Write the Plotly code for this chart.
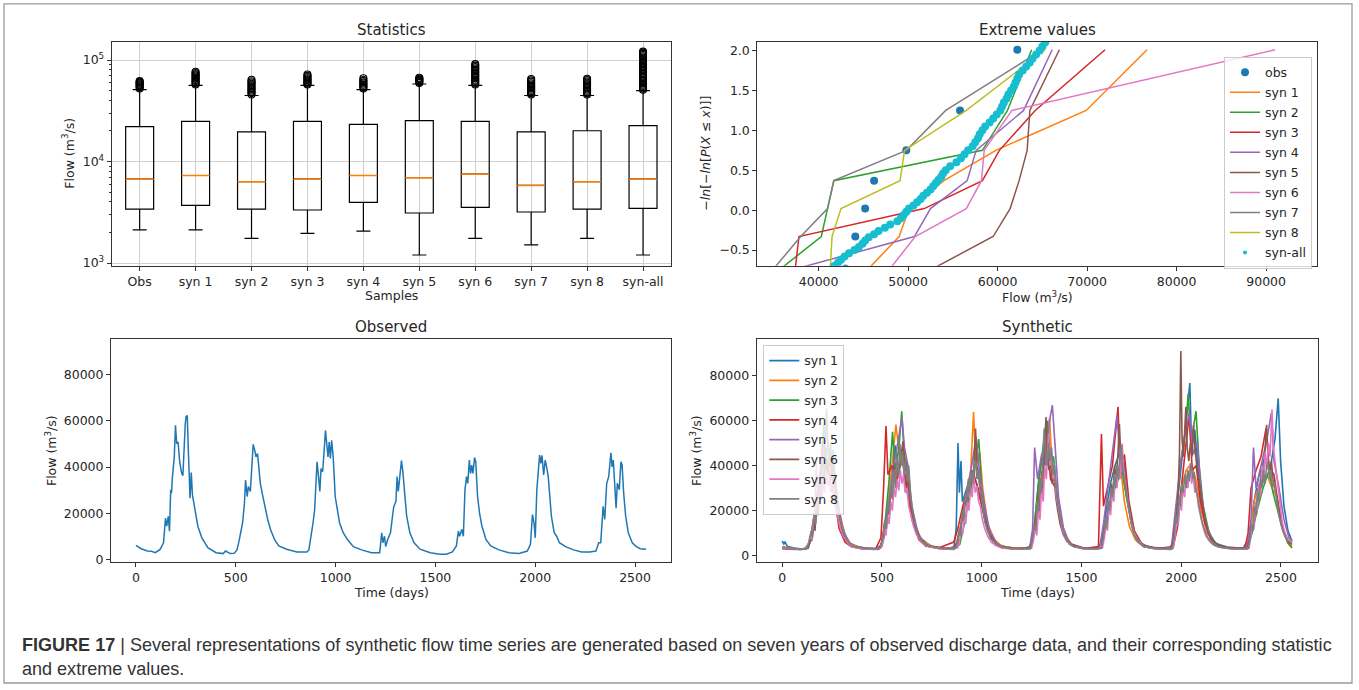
import plotly.graph_objects as go

W, H = 1359, 690

# ---------------- Statistics panel (box plots of daily flow) ----------------
SAMPLE_LABELS = ["Obs", "syn 1", "syn 2", "syn 3", "syn 4", "syn 5", "syn 6", "syn 7", "syn 8", "syn-all"]
BOX_Q1 = [3400, 3690, 3400, 3330, 3950, 3110, 3530, 3180, 3400, 3450]
BOX_MEDIAN = [6700, 7280, 6330, 6700, 7280, 6920, 7500, 5820, 6330, 6700]
BOX_Q3 = [22100, 24800, 19600, 24800, 23200, 25300, 24800, 19600, 20100, 22600]
BOX_LOW = [2125, 2125, 1750, 1960, 2060, 1200, 1750, 1510, 1750, 1200]
BOX_HIGH = [51100, 56200, 44700, 56200, 51000, 58000, 56200, 44700, 44700, 50000]

OUT_OBS = [52500, 53800, 55000, 56300, 57500, 58600, 59800, 61000, 62200]
OUT_SYN1 = [57500, 59000, 60500, 62000, 63600, 65200, 67000, 68800, 70500, 72300, 74200, 76700]
OUT_SYN2 = [45800, 47200, 48600, 50000, 51500, 53000, 54800, 56500, 58300, 60000, 61800, 63800]
OUT_SYN3 = [57300, 58600, 60000, 61500, 63000, 64500, 66200, 68000, 70000, 72000]
OUT_SYN4 = [52500, 54000, 55500, 57000, 58600, 60200, 62000, 63500, 66100]
OUT_SYN5 = [59300, 60600, 61900, 63300, 64500, 65700, 66900]
OUT_SYN6 = [57400, 59000, 60600, 62300, 64000, 66000, 68000, 70200, 72500, 75000, 77500,
            80000, 82500, 85000, 88000, 91000]
OUT_SYN7 = [45800, 47000, 48300, 49600, 51000, 52500, 54000, 55600, 57300, 59000, 61000, 63000, 65000]
OUT_SYN8 = [45800, 47100, 48400, 49800, 51200, 52700, 54300, 56000, 57800, 59600, 61500, 63400, 65300]
OUT_SYNALL = [51000, 52500, 54000, 55500, 57000, 58700, 60400, 62200, 64000, 66000, 68000, 70000,
              72500, 75000, 77500, 80000, 82500, 85000, 88000, 91000, 94000, 97000, 100000,
              103000, 106000, 109000, 112000, 115000, 118000, 121000]

# ---------------- Extreme values panel (Gumbel plot of annual maxima) ----------------
EV_Y = [-0.73, -0.33, 0.02, 0.37, 0.75, 1.25, 2.01]
EV_OBS = [43000, 44100, 45200, 46200, 49800, 55800, 62200]
EV_SYN1 = [45600, 49000, 50100, 54000, 59800, 69900, 76700]
EV_SYN2 = [35800, 40300, 41000, 41700, 58300, 61100, 63800]
EV_SYN3 = [37400, 37800, 51800, 58300, 60200, 64200, 72000]
EV_SYN4 = [37600, 50700, 52500, 56600, 57600, 62900, 66100]
EV_SYN5 = [52800, 59500, 61400, 62400, 63300, 63600, 66900]
EV_SYN6 = [48000, 50800, 56500, 58200, 58500, 61600, 91000]
EV_SYN7 = [35000, 38000, 41000, 41700, 49800, 54200, 65000]
EV_SYN8 = [41300, 41500, 42500, 49100, 49600, 56500, 65300]
SYNALL_PTS = [
    (41500, -0.74), (41750, -0.70), (42150, -0.66), (42500, -0.62), (42900, -0.58), (43400, -0.54),
    (44000, -0.50), (44500, -0.46), (44900, -0.42), (45200, -0.38), (45600, -0.34), (46200, -0.30),
    (46700, -0.26), (47400, -0.22), (48000, -0.18), (48800, -0.14), (49200, -0.10), (49500, -0.06),
    (49800, -0.02), (50100, 0.02), (50600, 0.06), (51000, 0.10), (51400, 0.14), (51700, 0.18),
    (52100, 0.22), (52500, 0.26), (52800, 0.30), (53100, 0.34), (53400, 0.38), (53700, 0.42),
    (53900, 0.46), (54200, 0.50), (54700, 0.55), (55400, 0.60), (55900, 0.65), (56300, 0.70),
    (56700, 0.75), (57200, 0.80), (57500, 0.85), (57800, 0.90), (58000, 0.95), (58300, 1.00),
    (58600, 1.05), (59100, 1.10), (59500, 1.15), (59900, 1.20), (60300, 1.25), (60500, 1.30),
    (60700, 1.35), (61000, 1.40), (61200, 1.45), (61500, 1.50), (61800, 1.55), (62000, 1.60),
    (62200, 1.65), (62400, 1.70), (62800, 1.75), (63200, 1.80), (63600, 1.85), (63900, 1.90),
    (64300, 1.95), (64700, 2.00), (65000, 2.05), (65300, 2.10), (65600, 2.15),
]

# ---------------- Observed daily flow (day, m3/s) ----------------
OBS_SERIES = [
    (0, 6300), (26, 4800), (57, 3800), (77, 3700), (97, 3100), (121, 4500), (138, 7400), (148, 18000),
    (154, 14500), (162, 18800), (168, 12400), (174, 30200), (178, 28700), (182, 35100), (192, 44400),
    (198, 58000), (204, 50100), (211, 50800), (219, 42300), (229, 37300), (235, 36300), (241, 51500),
    (247, 58600), (251, 61800), (257, 62200), (263, 45800), (271, 26600), (277, 37600), (283, 28000),
    (296, 21600), (310, 14500), (330, 9500), (360, 5300), (401, 3100), (437, 2700), (449, 3800),
    (472, 2700), (492, 2800), (506, 4300), (518, 8800), (526, 13100), (534, 15900), (543, 23800),
    (549, 34400), (557, 27300), (563, 31600), (573, 29500), (581, 44400), (587, 49800), (595, 47300),
    (601, 44400), (609, 45800), (615, 38700), (623, 33000), (634, 28000), (644, 23800), (660, 17400),
    (674, 13100), (694, 8800), (715, 6000), (755, 4600), (806, 3400), (856, 3400), (866, 4300),
    (877, 9500), (887, 15900), (895, 21600), (907, 42300), (913, 37300), (921, 29500), (927, 39400),
    (935, 38000), (943, 47300), (949, 55800), (955, 50800), (962, 44400), (968, 50800), (974, 43700),
    (980, 51500), (988, 44400), (998, 27300), (1008, 21600), (1020, 15900), (1038, 11700), (1059, 8800),
    (1089, 5700), (1130, 4300), (1180, 3100), (1221, 3100), (1231, 11700), (1237, 7400), (1245, 10200),
    (1251, 5700), (1261, 8800), (1275, 11700), (1285, 18800), (1291, 22800), (1302, 25200),
    (1308, 35900), (1314, 29500), (1322, 37300), (1330, 42800), (1336, 38700), (1346, 27300),
    (1356, 18800), (1372, 11700), (1393, 7400), (1423, 4600), (1474, 3100), (1524, 2400), (1555, 2400),
    (1585, 3400), (1605, 6000), (1615, 12400), (1621, 10200), (1632, 13100), (1640, 10200),
    (1648, 30200), (1656, 35900), (1662, 33000), (1670, 43000), (1676, 37300), (1682, 40900),
    (1688, 37300), (1696, 44100), (1702, 42300), (1711, 27300), (1721, 20200), (1733, 14500),
    (1753, 8800), (1777, 6000), (1818, 4300), (1868, 3100), (1919, 2800), (1960, 3800), (1976, 6700),
    (1986, 19500), (1994, 15900), (2000, 9500), (2008, 30200), (2016, 40100), (2022, 45200),
    (2028, 41600), (2034, 45000), (2042, 36600), (2050, 43000), (2057, 40100), (2065, 35900),
    (2073, 27300), (2081, 18800), (2095, 11700), (2107, 10200), (2121, 7400), (2152, 5700),
    (2192, 4300), (2233, 3400), (2273, 3400), (2304, 3800), (2318, 7400), (2328, 7400), (2340, 23100),
    (2348, 17400), (2358, 33000), (2368, 35900), (2379, 46200), (2385, 40100), (2391, 43000),
    (2399, 27300), (2405, 22300), (2411, 33000), (2421, 30200), (2429, 42300), (2435, 40900),
    (2443, 28700), (2453, 18800), (2466, 11700), (2486, 7400), (2506, 5700), (2526, 4800), (2555, 4600),
]

# ---------------- Synthetic daily flow series (day, m3/s) ----------------
SYN1_SERIES = [
    (0, 6500), (8, 5200), (14, 6000), (25, 4200), (60, 3400), (100, 2900), (130, 3600), (145, 8000),
    (165, 16000), (180, 26000), (195, 38000), (210, 54000), (222, 40000), (240, 47000), (262, 33000),
    (285, 19000), (310, 10000), (340, 5500), (380, 4000), (430, 3200), (485, 3000), (500, 6000),
    (520, 14000), (545, 30000), (566, 49000), (580, 36000), (600, 44000), (622, 30000), (650, 18000),
    (690, 8000), (740, 4500), (800, 3300), (860, 3500), (872, 12000), (881, 50100), (888, 28000),
    (896, 42000), (903, 24000), (925, 30000), (950, 38000), (975, 32000), (1000, 22000), (1030, 11000),
    (1070, 5500), (1120, 3800), (1200, 3000), (1245, 4000), (1265, 14000), (1285, 33000), (1305, 46000),
    (1330, 59800), (1345, 44000), (1365, 36000), (1385, 20000), (1410, 10000), (1450, 4800),
    (1500, 3400), (1580, 3000), (1600, 6000), (1620, 18000), (1645, 32000), (1668, 40000),
    (1690, 45600), (1710, 34000), (1735, 22000), (1765, 10000), (1800, 5000), (1860, 3500),
    (1940, 3000), (1960, 6000), (1980, 24000), (2000, 40000), (2020, 55000), (2043, 76700),
    (2052, 48000), (2068, 56000), (2085, 38000), (2105, 22000), (2135, 11000), (2170, 5500),
    (2230, 3800), (2310, 3200), (2340, 8000), (2365, 24000), (2390, 36000), (2420, 44000),
    (2445, 38000), (2470, 52000), (2486, 69900), (2498, 42000), (2515, 22000), (2535, 11000), (2555, 6500),
]
SYN2_SERIES = [
    (0, 4000), (30, 3500), (80, 2900), (125, 3300), (145, 7000), (165, 15000), (185, 28000),
    (205, 36000), (225, 41700), (245, 30000), (265, 35000), (285, 20000), (315, 9000), (345, 5000),
    (390, 3600), (450, 2900), (490, 3500), (510, 9000), (530, 22000), (550, 40000), (570, 58300),
    (590, 42000), (612, 47000), (635, 28000), (665, 14000), (700, 6500), (760, 4000), (830, 3000),
    (870, 4500), (895, 14000), (920, 26000), (945, 38000), (959, 63800), (970, 40000), (990, 46000),
    (1005, 30000), (1030, 14000), (1065, 7000), (1100, 4200), (1170, 3300), (1240, 3400), (1260, 9000),
    (1280, 24000), (1300, 36000), (1320, 44000), (1340, 61100), (1352, 40000), (1370, 33000),
    (1395, 16000), (1425, 8000), (1460, 4000), (1530, 3000), (1600, 3600), (1620, 12000),
    (1645, 25000), (1672, 34000), (1695, 40300), (1715, 24000), (1740, 13000), (1770, 7000),
    (1810, 4000), (1880, 3200), (1950, 3400), (1975, 14000), (2000, 30000), (2025, 38000),
    (2050, 41000), (2075, 33000), (2100, 20000), (2130, 10000), (2170, 5000), (2240, 3500),
    (2320, 3300), (2345, 12000), (2370, 26000), (2400, 33000), (2430, 35800), (2455, 30000),
    (2480, 26000), (2505, 14000), (2530, 7000), (2555, 4000),
]
SYN3_SERIES = [
    (0, 3500), (40, 3000), (90, 2600), (130, 3200), (150, 9000), (170, 20000), (190, 34000),
    (208, 58300), (222, 40000), (245, 44000), (268, 28000), (290, 15000), (320, 7000), (350, 4200),
    (400, 3300), (460, 2800), (495, 4000), (515, 14000), (535, 33000), (553, 55000), (565, 38000),
    (585, 48000), (599, 64200), (612, 44000), (635, 30000), (660, 15000), (690, 7500), (720, 4500),
    (780, 3200), (860, 2800), (890, 5000), (915, 15000), (940, 28000), (960, 36000), (985, 51800),
    (1000, 30000), (1025, 15000), (1055, 6500), (1090, 3800), (1160, 3000), (1240, 3000),
    (1262, 12000), (1282, 30000), (1305, 45000), (1325, 60200), (1340, 42000), (1360, 44000),
    (1380, 24000), (1405, 11000), (1440, 5000), (1520, 3000), (1600, 3400), (1625, 14000),
    (1650, 26000), (1680, 33000), (1705, 37400), (1725, 26000), (1750, 14000), (1780, 6500),
    (1820, 3800), (1880, 3000), (1950, 2800), (1970, 12000), (1995, 40000), (2020, 55000),
    (2035, 72000), (2048, 50000), (2074, 64200), (2090, 40000), (2110, 22000), (2140, 10000),
    (2175, 5000), (2240, 3400), (2330, 3000), (2355, 10000), (2380, 20000), (2410, 30000),
    (2440, 37800), (2460, 28000), (2485, 20000), (2510, 11000), (2535, 5500), (2555, 3400),
]
SYN4_SERIES = [
    (0, 3200), (50, 2800), (110, 2800), (135, 5000), (150, 12000), (165, 22000), (185, 33000),
    (205, 50700), (220, 36000), (242, 42000), (262, 26000), (285, 12000), (315, 6000), (345, 4000),
    (400, 3000), (470, 3200), (495, 8000), (508, 30000), (520, 57600), (530, 36000), (550, 40000),
    (575, 33000), (600, 45000), (625, 30000), (650, 16000), (685, 7000), (720, 4200), (790, 3600),
    (860, 6000), (880, 12000), (905, 22000), (930, 30000), (955, 37600), (980, 30000), (1005, 20000),
    (1035, 10000), (1070, 5500), (1100, 3600), (1170, 3000), (1240, 3500), (1262, 10000),
    (1285, 26000), (1305, 38000), (1325, 52500), (1345, 34000), (1370, 30000), (1392, 16000),
    (1420, 8000), (1455, 4500), (1520, 3200), (1585, 4000), (1600, 54000), (1610, 22000),
    (1630, 30000), (1655, 40000), (1683, 66100), (1695, 38000), (1715, 45000), (1738, 24000),
    (1765, 11000), (1800, 5500), (1830, 3800), (1900, 3400), (1960, 4000), (1980, 12000),
    (2000, 30000), (2020, 46000), (2040, 62900), (2055, 38000), (2075, 40000), (2095, 25000),
    (2120, 14000), (2150, 7000), (2185, 4200), (2250, 3200), (2320, 3500), (2335, 10000),
    (2350, 30000), (2375, 38000), (2400, 44000), (2425, 56600), (2440, 40000), (2465, 36000),
    (2490, 20000), (2515, 10000), (2540, 6000), (2555, 5000),
]
SYN5_SERIES = [
    (0, 3000), (60, 2700), (120, 3000), (140, 7000), (160, 18000), (180, 30000), (200, 42000),
    (220, 59500), (236, 42000), (255, 45000), (275, 26000), (300, 13000), (330, 6000), (360, 3800),
    (420, 3000), (480, 2700), (500, 4000), (520, 12000), (540, 28000), (560, 40000), (580, 50000),
    (600, 61400), (613, 48000), (630, 40000), (650, 22000), (680, 10000), (715, 5000), (780, 3400),
    (850, 3200), (880, 6000), (900, 16000), (925, 28000), (950, 40000), (972, 52800), (990, 36000),
    (1010, 24000), (1040, 11000), (1075, 5500), (1100, 3800), (1170, 3000), (1240, 3200),
    (1255, 12000), (1265, 48000), (1280, 34000), (1300, 45000), (1320, 40000), (1340, 60000),
    (1354, 66900), (1368, 50000), (1385, 26000), (1410, 12000), (1440, 5500), (1520, 3000),
    (1590, 3200), (1610, 14000), (1630, 28000), (1655, 44000), (1678, 62400), (1695, 40000),
    (1715, 36000), (1740, 20000), (1770, 9000), (1810, 4200), (1880, 3000), (1950, 3000),
    (1972, 20000), (1995, 40000), (2015, 52000), (2040, 63300), (2060, 45000), (2080, 50000),
    (2100, 28000), (2125, 14000), (2160, 6000), (2190, 3800), (2260, 3000), (2330, 3200),
    (2350, 16000), (2362, 48000), (2375, 30000), (2400, 40000), (2430, 52000), (2452, 63600),
    (2465, 42000), (2490, 30000), (2515, 16000), (2540, 8000), (2555, 6500),
]
SYN6_SERIES = [
    (0, 3400), (50, 3000), (110, 2900), (130, 4500), (140, 8000), (148, 6500), (156, 14000),
    (164, 11000), (172, 22000), (180, 18000), (188, 30000), (196, 25000), (204, 36000), (211, 30000),
    (218, 48000), (225, 36000), (232, 40000), (240, 33000), (248, 38000), (256, 28000), (265, 24000),
    (276, 18000), (290, 13000), (305, 9000), (325, 6000), (350, 4000),
    (410, 3200), (470, 3000), (495, 4500), (505, 9000), (513, 15000), (521, 12000), (529, 22000),
    (537, 18000), (545, 30000), (553, 25000), (561, 40000), (569, 33000), (577, 42000), (585, 36000),
    (595, 44000), (605, 50800), (613, 38000), (621, 42000), (630, 32000), (640, 26000), (652, 19000),
    (666, 13000), (682, 9000), (700, 6500), (735, 4000),
    (800, 3100), (860, 3300), (878, 6000), (886, 11000), (894, 9000), (902, 18000), (910, 15000),
    (918, 26000), (926, 22000), (934, 32000), (942, 27000), (950, 38000), (958, 33000), (969, 56500),
    (976, 40000), (984, 36000), (992, 30000), (1002, 24000), (1014, 17000), (1028, 12000),
    (1045, 8000), (1065, 6000), (1095, 4000),
    (1170, 3200), (1240, 3300), (1255, 7000), (1263, 13000), (1271, 10000), (1279, 22000),
    (1287, 18000), (1295, 32000), (1303, 26000), (1311, 42000), (1322, 61600), (1329, 44000),
    (1337, 38000), (1345, 42000), (1353, 32000), (1362, 36000), (1371, 26000), (1381, 20000),
    (1393, 14000), (1408, 9500), (1425, 6500), (1445, 5000),
    (1520, 3100), (1600, 3500), (1610, 8000), (1618, 15000), (1626, 12000), (1634, 24000),
    (1642, 20000), (1650, 32000), (1658, 26000), (1666, 40000), (1674, 34000), (1682, 44000),
    (1690, 58500), (1698, 42000), (1706, 38000), (1714, 42000), (1722, 32000), (1731, 26000),
    (1742, 20000), (1755, 14000), (1770, 9500), (1790, 6500), (1815, 4500),
    (1880, 3200), (1950, 3600), (1962, 8000), (1970, 16000), (1978, 14000), (1985, 30000),
    (1991, 45000), (1998, 91000), (2004, 52000), (2011, 44000), (2018, 56000), (2023, 66000),
    (2030, 48000), (2038, 42000), (2046, 50000), (2054, 44000), (2062, 58000), (2070, 46000),
    (2078, 40000), (2087, 34000), (2097, 28000), (2108, 22000), (2120, 16000), (2135, 10000),
    (2155, 7000), (2190, 4500),
    (2260, 3200), (2330, 3400), (2345, 8000), (2353, 14000), (2361, 11000), (2369, 22000),
    (2377, 18000), (2385, 30000), (2393, 26000), (2401, 38000), (2409, 32000), (2417, 44000),
    (2428, 58200), (2436, 42000), (2444, 38000), (2452, 42000), (2460, 34000), (2470, 30000),
    (2482, 24000), (2495, 18000), (2510, 12000), (2528, 8000), (2545, 6000), (2555, 5500),
]
SYN7_SERIES = [
    (0, 3300), (40, 3000), (80, 2800), (110, 3000), (130, 5000), (140, 9000), (148, 7000),
    (155, 14000), (163, 20000), (171, 41700), (177, 26000), (184, 22000), (191, 30000), (198, 25000),
    (205, 34000), (212, 28000), (220, 38000), (228, 31000), (236, 35000), (244, 28000), (252, 32000),
    (260, 24000), (270, 20000), (282, 15000), (295, 11000), (310, 8000), (330, 5500), (350, 3800),
    (400, 3100), (460, 2800), (495, 3500), (505, 7000), (512, 12000), (520, 9000), (528, 18000),
    (536, 14000), (544, 24000), (552, 20000), (560, 30000), (568, 26000), (576, 34000), (584, 29000),
    (592, 38000), (600, 32000), (608, 36000), (616, 28000), (625, 30000), (634, 22000), (645, 18000),
    (658, 13000), (672, 9500), (690, 7000), (710, 5000), (735, 3800),
    (790, 3100), (850, 3000), (880, 3500), (890, 7000), (898, 12000), (905, 9500), (913, 18000),
    (920, 14000), (928, 24000), (936, 20000), (944, 30000), (952, 26000), (960, 35000), (968, 28000),
    (976, 31000), (984, 24000), (993, 22000), (1003, 16000), (1015, 12000), (1030, 8500),
    (1048, 6000), (1070, 4500), (1100, 3400),
    (1160, 2900), (1220, 3000), (1250, 3300), (1260, 7000), (1268, 12000), (1276, 9000),
    (1284, 20000), (1292, 16000), (1300, 30000), (1308, 24000), (1316, 40000), (1324, 34000),
    (1335, 54200), (1342, 40000), (1350, 44000), (1358, 34000), (1366, 36000), (1374, 26000),
    (1383, 22000), (1393, 16000), (1405, 11000), (1420, 7500), (1440, 5000), (1460, 4000),
    (1520, 2900), (1580, 2900), (1605, 3500), (1615, 8000), (1622, 14000), (1630, 11000),
    (1638, 22000), (1646, 18000), (1654, 28000), (1662, 24000), (1670, 36000), (1678, 30000),
    (1686, 40000), (1694, 34000), (1704, 49800), (1711, 38000), (1718, 32000), (1726, 28000),
    (1735, 22000), (1746, 16000), (1760, 11000), (1780, 7000), (1810, 4200),
    (1860, 3100), (1920, 3000), (1960, 3300), (1970, 9000), (1977, 16000), (1985, 13000),
    (1993, 24000), (2001, 20000), (2009, 30000), (2017, 26000), (2025, 36000), (2033, 30000),
    (2045, 41000), (2052, 32000), (2060, 36000), (2068, 28000), (2077, 30000), (2086, 22000),
    (2096, 18000), (2108, 13000), (2122, 9000), (2140, 6500), (2160, 4800), (2185, 3800),
    (2240, 3100), (2300, 3000), (2340, 3300), (2350, 9000), (2357, 16000), (2365, 12000),
    (2373, 24000), (2381, 20000), (2389, 32000), (2397, 26000), (2405, 40000), (2413, 34000),
    (2421, 46000), (2429, 38000), (2437, 50000), (2445, 44000), (2455, 65000), (2462, 48000),
    (2470, 42000), (2478, 36000), (2486, 30000), (2495, 22000), (2506, 15000), (2520, 10000),
    (2538, 7000), (2555, 6000),
]
SYN8_SERIES = [
    (0, 3600), (30, 3300), (60, 3100), (90, 2900), (120, 3000), (135, 6000), (145, 11000),
    (152, 8000), (160, 18000), (168, 14000), (175, 28000), (182, 22000), (190, 36000), (197, 30000),
    (204, 44000), (210, 38000), (216, 52000), (222, 65300), (228, 48000), (235, 42000), (242, 50000),
    (248, 40000), (255, 47000), (262, 36000), (270, 30000), (278, 22000), (286, 18000), (295, 14000),
    (310, 9000), (325, 7000), (340, 5200), (355, 4200),
    (380, 3600), (420, 3200), (460, 3000), (490, 3400), (500, 6000), (508, 9000), (515, 16000),
    (522, 12000), (530, 24000), (537, 20000), (545, 32000), (552, 26000), (560, 38000), (567, 30000),
    (575, 44000), (582, 36000), (590, 49600), (597, 40000), (604, 45000), (611, 36000), (618, 42000),
    (625, 33000), (634, 40000), (642, 28000), (650, 22000), (660, 16000), (672, 11000), (688, 8000),
    (705, 6000), (725, 4500), (745, 4000),
    (780, 3400), (830, 3100), (870, 3300), (880, 6000), (888, 12000), (895, 9000), (903, 20000),
    (910, 16000), (918, 28000), (925, 24000), (933, 34000), (940, 28000), (948, 38000), (955, 32000),
    (962, 40000), (969, 42500), (976, 34000), (983, 38000), (990, 30000), (998, 26000), (1006, 20000),
    (1015, 15000), (1030, 11000), (1045, 7500), (1065, 6000), (1085, 4500), (1100, 3800),
    (1140, 3200), (1200, 3000), (1245, 3200), (1255, 8000), (1262, 14000), (1270, 11000),
    (1278, 24000), (1285, 20000), (1292, 34000), (1299, 28000), (1306, 44000), (1313, 56500),
    (1320, 46000), (1328, 40000), (1335, 50000), (1342, 42000), (1350, 48000), (1358, 36000),
    (1365, 40000), (1372, 30000), (1380, 24000), (1390, 18000), (1400, 14000), (1415, 9000),
    (1430, 6500), (1445, 5000), (1460, 4000),
    (1500, 3200), (1560, 3000), (1600, 3300), (1610, 8000), (1618, 16000), (1625, 12000),
    (1633, 24000), (1640, 20000), (1648, 30000), (1655, 26000), (1663, 36000), (1670, 30000),
    (1678, 40000), (1685, 34000), (1693, 44000), (1700, 49100), (1707, 38000), (1714, 34000),
    (1721, 30000), (1730, 24000), (1740, 18000), (1752, 13000), (1765, 9000), (1785, 6000),
    (1810, 4200),
    (1850, 3400), (1910, 3000), (1955, 3200), (1965, 8000), (1972, 18000), (1980, 14000),
    (1988, 26000), (1995, 22000), (2003, 32000), (2010, 28000), (2018, 36000), (2025, 30000),
    (2033, 38000), (2040, 33000), (2050, 41300), (2058, 34000), (2065, 37000), (2073, 30000),
    (2082, 26000), (2092, 20000), (2102, 16000), (2115, 12000), (2130, 8500), (2150, 6000),
    (2170, 4500), (2190, 3800),
    (2230, 3300), (2290, 3000), (2335, 3200), (2345, 8000), (2352, 14000), (2360, 11000),
    (2367, 22000), (2374, 18000), (2382, 28000), (2389, 24000), (2397, 34000), (2404, 30000),
    (2412, 38000), (2420, 32000), (2428, 40000), (2435, 41500), (2442, 34000), (2450, 38000),
    (2458, 30000), (2466, 33000), (2474, 26000), (2482, 22000), (2492, 17000), (2505, 12000),
    (2520, 8500), (2535, 6500), (2555, 5500),
]

CAPTION_1 = ("<b>FIGURE 17</b> | Several representations of synthetic flow time series are generated "
             "based on seven years of observed discharge data, and their corresponding statistic")
CAPTION_2 = "and extreme values."

# ---------------- styling ----------------
FONT = "DejaVu Sans"
CAPTION_FONT = "Liberation Sans, Arial, sans-serif"
TXT = "#262626"
AX = "#333333"
TAB = ["#1f77b4", "#ff7f0e", "#2ca02c", "#d62728", "#9467bd",
       "#8c564b", "#e377c2", "#7f7f7f", "#bcbd22", "#17becf"]
TICK = 12.5
TITLE = 15


def fx(p):
    return p / W


def fy(p):
    return 1 - p / H


fig = go.Figure()

# --- box plots ---
positions = list(range(len(SAMPLE_LABELS)))
fig.add_trace(go.Box(
    x=positions, q1=BOX_Q1, median=BOX_MEDIAN, q3=BOX_Q3,
    lowerfence=BOX_LOW, upperfence=BOX_HIGH,
    width=0.5, whiskerwidth=0.5, fillcolor="rgba(0,0,0,0)",
    line=dict(color="black", width=1.2), showlegend=False,
    hoverinfo="skip", xaxis="x", yaxis="y"))

med_x, med_y = [], []
for i, m in zip(positions, BOX_MEDIAN):
    med_x += [i - 0.25, i + 0.25, None]
    med_y += [m, m, None]
fig.add_trace(go.Scatter(x=med_x, y=med_y, mode="lines",
                         line=dict(color=TAB[1], width=1.5),
                         showlegend=False, hoverinfo="skip", xaxis="x", yaxis="y"))

outliers = [OUT_OBS, OUT_SYN1, OUT_SYN2, OUT_SYN3, OUT_SYN4, OUT_SYN5,
            OUT_SYN6, OUT_SYN7, OUT_SYN8, OUT_SYNALL]
ox, oy = [], []
for i, vals in zip(positions, outliers):
    ox += [i] * len(vals)
    oy += vals
fig.add_trace(go.Scatter(x=ox, y=oy, mode="markers",
                         marker=dict(symbol="circle-open", size=7, color="black",
                                     line=dict(width=1.1, color="black")),
                         showlegend=False, hoverinfo="skip", xaxis="x", yaxis="y"))

# --- extreme values ---
fig.add_trace(go.Scatter(x=EV_OBS, y=EV_Y, mode="markers", name="obs",
                         marker=dict(color=TAB[0], size=8),
                         legend="legend", legendgroup="ev0", xaxis="x2", yaxis="y2"))
ev_syn = [EV_SYN1, EV_SYN2, EV_SYN3, EV_SYN4, EV_SYN5, EV_SYN6, EV_SYN7, EV_SYN8]
for k, vals in enumerate(ev_syn):
    fig.add_trace(go.Scatter(x=vals, y=EV_Y, mode="lines", name=f"syn {k + 1}",
                             line=dict(color=TAB[k + 1], width=1.5),
                             legend="legend", legendgroup=f"ev{k + 1}",
                             xaxis="x2", yaxis="y2"))
# legend entry for the pooled sample uses a small dot
fig.add_trace(go.Scatter(x=[None], y=[None], mode="markers", name="syn-all",
                         marker=dict(color=TAB[9], size=4),
                         legend="legend", legendgroup="ev9", xaxis="x2", yaxis="y2"))
fig.add_trace(go.Scatter(x=[p[0] for p in SYNALL_PTS], y=[p[1] for p in SYNALL_PTS],
                         mode="markers", showlegend=False,
                         marker=dict(color=TAB[9], size=8),
                         xaxis="x2", yaxis="y2"))

# --- observed series ---
fig.add_trace(go.Scatter(x=[p[0] for p in OBS_SERIES], y=[p[1] for p in OBS_SERIES],
                         mode="lines", line=dict(color=TAB[0], width=1.5),
                         showlegend=False, xaxis="x3", yaxis="y3"))

# --- synthetic series ---
syn_series = [SYN1_SERIES, SYN2_SERIES, SYN3_SERIES, SYN4_SERIES,
              SYN5_SERIES, SYN6_SERIES, SYN7_SERIES, SYN8_SERIES]
for k, ser in enumerate(syn_series):
    fig.add_trace(go.Scatter(x=[p[0] for p in ser], y=[p[1] for p in ser],
                             mode="lines", name=f"syn {k + 1}",
                             line=dict(color=TAB[k], width=1.6),
                             legend="legend2", legendgroup=f"ts{k}",
                             xaxis="x4", yaxis="y4"))

base_axis = dict(showline=True, mirror=True, linecolor=AX, linewidth=1,
                 ticks="outside", ticklen=4, tickwidth=1, tickcolor=AX,
                 tickfont=dict(family=FONT, size=TICK, color=TXT),
                 zeroline=False, showgrid=False, fixedrange=True)

top = [fy(268), fy(42.3)]
bottom = [fy(566.5), fy(342.3)]

minor_log = [v * 10 ** e for e in (2, 3, 4, 5) for v in range(2, 10)]

layout_axes = dict(
    xaxis=dict(base_axis, domain=[fx(111.7), fx(671)], range=[-0.5, 9.5],
               tickmode="array", tickvals=positions, ticktext=SAMPLE_LABELS,
               showgrid=True, gridcolor="#cfcfcf", gridwidth=1, anchor="y"),
    yaxis=dict(base_axis, domain=top, type="log", range=[2.974, 5.178],
               tickmode="array", tickvals=[1e3, 1e4, 1e5],
               ticktext=["10<sup>3</sup>", "10<sup>4</sup>", "10<sup>5</sup>"],
               showgrid=True, gridcolor="#cfcfcf", gridwidth=1, anchor="x",
               minor=dict(tickvals=minor_log, ticks="outside", ticklen=2,
                          tickcolor=AX, showgrid=False)),
    xaxis2=dict(base_axis, domain=[fx(757.3), fx(1316.7)], range=[33150, 95650],
                tickmode="array", tickvals=[40000, 50000, 60000, 70000, 80000, 90000],
                tickformat="d", anchor="y2"),
    yaxis2=dict(base_axis, domain=top, range=[-0.695, 2.108],
                tickmode="array", tickvals=[-0.5, 0, 0.5, 1.0, 1.5, 2.0],
                tickformat=".1f", anchor="x2"),
    xaxis3=dict(base_axis, domain=[fx(111), fx(671)], range=[-125, 2680],
                tickmode="array", tickvals=[0, 500, 1000, 1500, 2000, 2500],
                tickformat="d", anchor="y3"),
    yaxis3=dict(base_axis, domain=bottom, range=[-730, 95070],
                tickmode="array", tickvals=[0, 20000, 40000, 60000, 80000],
                tickformat="d", anchor="x3"),
    xaxis4=dict(base_axis, domain=[fx(756.7), fx(1318.3)], range=[-128, 2687],
                tickmode="array", tickvals=[0, 500, 1000, 1500, 2000, 2500],
                tickformat="d", anchor="y4"),
    yaxis4=dict(base_axis, domain=bottom, range=[-2650, 96150],
                tickmode="array", tickvals=[0, 20000, 40000, 60000, 80000],
                tickformat="d", anchor="x4"),
)


def label(text, x, y, size=TICK, angle=0, **kw):
    return dict(text=text, x=fx(x), y=fy(y), xref="paper", yref="paper",
                showarrow=False, textangle=angle, xanchor="center", yanchor="middle",
                font=dict(family=FONT, size=size, color=TXT), **kw)


flow_label = "Flow (m<sup>3</sup>/s)"
gumbel_label = ("\u2212<i>ln</i>[\u2212<i>ln</i>[<i>P</i>(<i>X</i> \u2264 <i>x</i>)]]")
annotations = [
    label("Statistics", 391.3, 30, TITLE),
    label("Extreme values", 1037, 30, TITLE),
    label("Observed", 391, 330, TITLE),
    label("Synthetic", 1037.5, 330, TITLE),
    label("Samples", 391.3, 298),
    label(flow_label, 1037, 299.5),
    label("Time (days)", 391, 598),
    label("Time (days)", 1037.5, 598),
    label(flow_label, 68, 155, angle=-90),
    label(gumbel_label, 706, 155, angle=-90),
    label(flow_label, 50.5, 454.5, angle=-90),
    label(flow_label, 695.5, 454.5, angle=-90),
    dict(text=CAPTION_1, x=fx(20), y=fy(651), xref="paper", yref="paper",
         showarrow=False, xanchor="left", yanchor="middle",
         font=dict(family=CAPTION_FONT, size=18.05, color="#333333")),
    dict(text=CAPTION_2, x=fx(20), y=fy(675), xref="paper", yref="paper",
         showarrow=False, xanchor="left", yanchor="middle",
         font=dict(family=CAPTION_FONT, size=18.05, color="#333333")),
]

legend_style = dict(bgcolor="rgba(255,255,255,0.8)", bordercolor="#cccccc", borderwidth=1,
                    font=dict(family=FONT, size=TICK, color=TXT),
                    xanchor="left", yanchor="top", traceorder="grouped")

fig.update_layout(
    width=W, height=H, autosize=False,
    margin=dict(l=0, r=0, t=0, b=0),
    paper_bgcolor="white", plot_bgcolor="white",
    font=dict(family=FONT, size=TICK, color=TXT),
    annotations=annotations,
    legend=dict(legend_style, x=fx(1224), y=fy(57), tracegroupgap=0.8),
    legend2=dict(legend_style, x=fx(763.3), y=fy(348), tracegroupgap=0.5),
    shapes=[dict(type="rect", xref="paper", yref="paper",
                 x0=fx(4), x1=fx(1352), y0=fy(689), y1=fy(4),
                 line=dict(color="#9a9a9a", width=1.3))],
    **layout_axes,
)

fig.write_html("out.html")
